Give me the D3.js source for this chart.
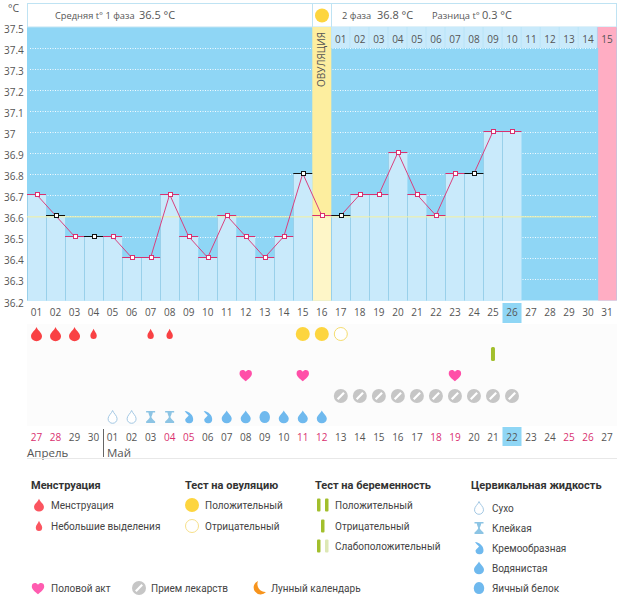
<!DOCTYPE html>
<html lang="ru">
<head>
<meta charset="UTF-8">
<title>График базальной температуры</title>
<script src="https://d3js.org/d3.v7.min.js"></script>
<style>
    html, body { margin: 0; padding: 0; background: #fff; overflow: hidden; }
    svg { display: block; }
    text { font-family: "Open Sans", "Noto Sans", sans-serif; font-size: 10px; fill: #555; }
    .legend text { font-family: Roboto, "Noto Sans", sans-serif; font-size: 10px; fill: #444; }
    .legend text.title { font-size: 11px; font-weight: bold; fill: #333; }
    .axis path, .axis line { display: none; }
</style>
</head>
<body>
<svg id="chart" width="626" height="595"></svg>
<script>
// cycle days and temperatures
const days = d3.range(1, 32);
const temps = [36.7, 36.6, 36.5, 36.5, 36.5, 36.4, 36.4, 36.7, 36.5, 36.4, 36.6, 36.5, 36.4,
    36.5, 36.8, 36.6, 36.6, 36.7, 36.7, 36.9, 36.7, 36.6, 36.8, 36.8, 37, 37];
const blackDays = [2, 4, 15, 17, 24];
const tempTicks = [37.5, 37.4, 37.3, 37.2, 37.1, 37, 36.9, 36.8, 36.7, 36.6, 36.5, 36.4, 36.3, 36.2];
const coverLine = 36.6;
const ovulationDay = 16;
const today = 26;

// second phase numbering in the top strip
const phaseDays = d3.range(17, 32);
const calendar = ["27", "28", "29", "30", "01", "02", "03", "04", "05", "06", "07", "08", "09", "10", "11", "12",
    "13", "14", "15", "16", "17", "18", "19", "20", "21", "22", "23", "24", "25", "26", "27"];
const weekendDays = [1, 2, 8, 9, 15, 16, 22, 23, 29, 30];

// symptom rows
const menstruation = [1, 2, 3];
const spotting = [4, 7, 8];
const ovuPositive = [15, 16];
const ovuNegative = [17];
const pregnancyNegative = [25];
const sexDays = [12, 15, 23];
const pillDays = d3.range(17, 27);
const cervical = [[5, "dry"], [6, "dry"], [7, "sticky"], [8, "sticky"], [9, "creamy"], [10, "creamy"],
    [11, "watery"], [12, "watery"], [13, "egg"], [14, "watery"], [15, "watery"], [16, "watery"]];

const svg = d3.select("#chart");
const pad = n => String(n).padStart(2, "0");

const x = d3.scaleBand().domain(days).range([27, 616.6]);
const y = d3.scaleLinear().domain([36.2, 37.5]).range([300.5, 27]);
const cx = d => x(d) + x.bandwidth() / 2;
const w = x.bandwidth();
const markY = d => Math.round(y(d)) - 0.5;

// icon paths, centred on 0,0
const dropPath = "M0,-7C1.2,-3.6 5.5,-1.2 5.5,2.2A5.5,5 0 0 1 -5.5,2.2C-5.5,-1.2 -1.2,-3.6 0,-7Z";
const smallDropPath = "M0,-5.2C0.8,-2.6 3.2,-0.8 3.2,1.6A3.2,3.5 0 0 1 -3.2,1.6C-3.2,-0.8 -0.8,-2.6 0,-5.2Z";
const heartPath = "M0,6.2C-2.5,3.8 -6.2,1.8 -6.2,-1.6C-6.2,-5.2 -1.8,-6 0,-3.2C1.8,-6 6.2,-5.2 6.2,-1.6C6.2,1.8 2.5,3.8 0,6.2Z";
const cervicalIcons = {
    dry: { d: "M0,-6.5C1,-3.5 4.5,-1.5 4.5,1.8A4.5,4.5 0 0 1 -4.5,1.8C-4.5,-1.5 -1,-3.5 0,-6.5Z", fill: "#fff", stroke: "#a3c8e4" },
    sticky: { d: "M-4.5,-6H4.5V-4.6H2.2C1.8,-2 0.8,-1 0.8,0C0.8,1 2,2.2 4.5,4.6V6H-4.5V4.6C-2,2.2 -0.8,1 -0.8,0C-0.8,-1 -1.8,-2 -2.2,-4.6H-4.5Z", fill: "#8cc4e4" },
    creamy: { d: "M-4,-6C1,-5.5 4.5,-1.5 4.5,2A4,4 0 0 1 -3.5,2.5C-2.5,0.5 -0.5,-0.5 0,-1.5C-1,-3 -3,-4 -4,-6Z", fill: "#6fb9ee" },
    watery: { d: "M0,-6.5C1.2,-3.5 5,-1.5 5,1.8A5,4.5 0 0 1 -5,1.8C-5,-1.5 -1.2,-3.5 0,-6.5Z", fill: "#6fb9ee" },
    egg: { d: "M0,-6C3.2,-6 5.2,-3 5.2,0.6A5.2,5.4 0 0 1 -5.2,0.6C-5.2,-3 -3.2,-6 0,-6Z", fill: "#6fb9ee" }
};
const pillIcon = (g, px, py) => {
    g.append("circle").attr("cx", px).attr("cy", py).attr("r", 7).attr("fill", "#c6c6c6");
    g.append("line").attr("x1", px - 3.2).attr("y1", py + 3.2).attr("x2", px + 3.2).attr("y2", py - 3.2)
        .attr("stroke", "#fff").attr("stroke-width", 2.2);
};
const icon = (g, d, px, py, fill, stroke) => g.append("path").attr("d", d)
    .attr("transform", `translate(${px},${py})`).attr("fill", fill).attr("stroke", stroke || "none");

// plot background
svg.append("rect").attr("x", 27).attr("y", 27).attr("width", 590).attr("height", 273.5).attr("fill", "#8fd6f5");

// header boxes
const header = svg.append("g").attr("fill", "#fff").attr("stroke", "#bfe3f3");
header.append("rect").attr("x", 27.5).attr("y", 3.5).attr("width", 285).attr("height", 23.5);
header.append("rect").attr("x", 312.5).attr("y", 3.5).attr("width", 19).attr("height", 23.5);
header.append("rect").attr("x", 331.5).attr("y", 3.5).attr("width", 285).attr("height", 23.5);
svg.append("circle").attr("cx", 322).attr("cy", 15.5).attr("r", 7).attr("fill", "#fdd53f");

const headerLine = (px, label, vx, value) => {
    svg.append("text").attr("x", px).attr("y", 19).style("font-size", "9.3px").text(label);
    svg.append("text").attr("x", vx).attr("y", 19).style("font-size", "11px").text(value);
};
headerLine(55, "Средняя t° 1 фаза", 139, "36.5 °C");
headerLine(342, "2 фаза", 377, "36.8 °C");
headerLine(432, "Разница t°", 482, "0.3 °C");
svg.append("text").attr("x", 8).attr("y", 12).style("font-size", "10.5px").text("°C");

// grid
svg.append("g").selectAll("line").data(tempTicks.filter(t => t < 37.5 && t > 36.2)).join("line")
    .attr("x1", 30).attr("x2", 597)
    .attr("y1", d => Math.round(y(d)) + 0.5).attr("y2", d => Math.round(y(d)) + 0.5)
    .attr("stroke", "#f2fbff").attr("stroke-dasharray", "1 1.5");

// ovulation and last day columns
svg.append("rect").attr("x", x(ovulationDay)).attr("y", 27).attr("width", w).attr("height", 273.5).attr("fill", "#fdee9f");
svg.append("rect").attr("x", x(31) + 0.6).attr("y", 27).attr("width", w - 0.6).attr("height", 273.5).attr("fill", "#ffadc3");

// temperature bars
svg.append("g").selectAll("rect").data(temps).join("rect")
    .attr("x", (d, i) => x(i + 1)).attr("width", w)
    .attr("y", d => markY(d)).attr("height", d => y(36.2) - markY(d))
    .attr("fill", (d, i) => i + 1 === ovulationDay ? "#fef6c8" : "#c9eafb");
svg.append("g").selectAll("line").data(temps).join("line")
    .attr("x1", (d, i) => Math.round(x(i + 1)) + 0.5).attr("x2", (d, i) => Math.round(x(i + 1)) + 0.5)
    .attr("y1", d => markY(d)).attr("y2", y(36.2))
    .attr("stroke", "#99d0ea");

// cover line
svg.append("line").attr("x1", 27).attr("x2", 591).attr("y1", y(coverLine) + 0.5).attr("y2", y(coverLine) + 0.5)
    .attr("stroke", "#f4f0a0");

// top strip with phase day numbers
const strip = svg.append("g");
strip.append("rect").attr("x", x(17)).attr("y", 27).attr("width", 266).attr("height", 21).attr("fill", "#b4e2f7");
strip.selectAll("rect.cell").data(phaseDays).join("rect").attr("class", "cell")
    .attr("x", d => x(d)).attr("y", 27).attr("width", w - 0.8).attr("height", 21)
    .attr("fill", d => d === 31 ? "#ffadc3" : "#c9eafb");
strip.selectAll("text").data(phaseDays).join("text")
    .attr("x", d => cx(d)).attr("y", 43).attr("text-anchor", "middle")
    .text(d => pad(d - 16));
svg.append("text").attr("transform", `translate(${cx(ovulationDay) + 3.5},87) rotate(-90)`)
    .style("font-size", "10px").text("ОВУЛЯЦИЯ");

// temperature line and markers
const line = d3.line().x((d, i) => cx(i + 1)).y(d => markY(d));
const isBlack = i => blackDays.includes(i + 1);
svg.append("path").datum(temps).attr("d", line).attr("fill", "none").attr("stroke", "#d9417f");
svg.append("g").selectAll("line").data(temps).join("line")
    .attr("x1", (d, i) => x(i + 1)).attr("x2", (d, i) => x(i + 1) + w)
    .attr("y1", d => markY(d)).attr("y2", d => markY(d))
    .attr("stroke", (d, i) => isBlack(i) ? "#111" : "#d9306f");
svg.append("g").selectAll("rect").data(temps).join("rect")
    .attr("x", (d, i) => Math.round(cx(i + 1)) - 1.5)
    .attr("y", d => markY(d) - 2)
    .attr("width", 4).attr("height", 4)
    .attr("fill", "#fff").attr("stroke", (d, i) => isBlack(i) ? "#111" : "#d9306f");

// axes
svg.append("g").attr("class", "axis").attr("transform", "translate(23,0)")
    .call(d3.axisLeft(y).tickValues(tempTicks).tickFormat(d3.format("")).tickSize(0))
    .call(g => g.selectAll("text").attr("x", -19).attr("dy", 5.5).attr("text-anchor", "start"));

svg.append("rect").attr("x", x(today)).attr("y", 303).attr("width", w).attr("height", 20).attr("fill", "#8fd6f5");
svg.append("g").attr("class", "axis").attr("transform", "translate(0,304)")
    .call(d3.axisBottom(x).tickFormat(pad).tickSize(0))
    .call(g => g.selectAll("text").attr("y", 2).attr("dy", 10));

// symptom rows
svg.append("rect").attr("x", 27).attr("y", 324).attr("width", 590).attr("height", 102).attr("fill", "#fcfcfc");
const rows = svg.append("g");
menstruation.forEach(d => icon(rows, dropPath, cx(d), 334, "#f94144"));
spotting.forEach(d => icon(rows, smallDropPath, cx(d), 334, "#f94144"));
ovuPositive.forEach(d => rows.append("circle").attr("cx", cx(d)).attr("cy", 334).attr("r", 7).attr("fill", "#fdd53f"));
ovuNegative.forEach(d => rows.append("circle").attr("cx", cx(d)).attr("cy", 334).attr("r", 6.5).attr("fill", "#fff").attr("stroke", "#f5dc6e"));
pregnancyNegative.forEach(d => rows.append("rect").attr("x", cx(d) - 2).attr("y", 347).attr("width", 4).attr("height", 14).attr("rx", 1.5).attr("fill", "#a2bf2c"));
sexDays.forEach(d => icon(rows, heartPath, cx(d), 375, "#ff4fa8"));
pillDays.forEach(d => pillIcon(rows, cx(d), 396));
cervical.forEach(([d, type]) => icon(rows, cervicalIcons[type].d, cx(d), 417, cervicalIcons[type].fill, cervicalIcons[type].stroke));

// calendar dates
svg.append("rect").attr("x", x(today)).attr("y", 427).attr("width", w).attr("height", 19).attr("fill", "#8fd6f5");
svg.append("g").selectAll("text").data(calendar).join("text")
    .attr("x", (d, i) => cx(i + 1)).attr("y", 441).attr("text-anchor", "middle")
    .style("fill", (d, i) => weekendDays.includes(i + 1) ? "#d9306f" : "#555")
    .text(d => d);
svg.append("line").attr("x1", 103.5).attr("x2", 103.5).attr("y1", 429).attr("y2", 457).attr("stroke", "#666");
svg.append("text").attr("x", 27).attr("y", 457).style("font-size", "11.5px").text("Апрель");
svg.append("text").attr("x", 107).attr("y", 457).style("font-size", "11.5px").text("Май");
svg.append("line").attr("x1", 27).attr("x2", 617).attr("y1", 458.5).attr("y2", 458.5).attr("stroke", "#e8e8e8");

// legend
const legend = svg.append("g").attr("class", "legend");
const label = (px, py, s, cls) => legend.append("text").attr("x", px).attr("y", py).attr("class", cls || null).text(s);
const bar = (px, py, fill) => legend.append("rect").attr("x", px).attr("y", py - 6.5).attr("width", 3.5).attr("height", 13).attr("rx", 1).attr("fill", fill);

label(31, 489, "Менструация", "title");
icon(legend, dropPath, 39, 505, "#fb5560").attr("transform", "translate(39,505) scale(0.9)");
label(51, 509, "Менструация");
icon(legend, smallDropPath, 39, 526, "#fb5560");
label(51, 530, "Небольшие выделения");

label(185, 489, "Тест на овуляцию", "title");
legend.append("circle").attr("cx", 192).attr("cy", 505).attr("r", 7).attr("fill", "#fdd53f");
label(205, 509, "Положительный");
legend.append("circle").attr("cx", 192).attr("cy", 526).attr("r", 6.5).attr("fill", "#fff").attr("stroke", "#f7e08a");
label(205, 530, "Отрицательный");

label(315, 489, "Тест на беременность", "title");
bar(317, 505, "#a2bf2c"); bar(325, 505, "#a2bf2c");
label(335, 509, "Положительный");
bar(321, 526, "#a2bf2c");
label(335, 530, "Отрицательный");
bar(317, 546, "#a2bf2c"); bar(325, 546, "#dde8b5");
label(335, 550, "Слабоположительный");

label(471, 489, "Цервикальная жидкость", "title");
const legendCervical = [["dry", "Сухо", 508], ["sticky", "Клейкая", 528], ["creamy", "Кремообразная", 548], ["watery", "Водянистая", 568], ["egg", "Яичный белок", 588]];
legendCervical.forEach(([type, s, py]) => {
    icon(legend, cervicalIcons[type].d, 479, py, cervicalIcons[type].fill, cervicalIcons[type].stroke);
    label(492, py + 4, s);
});

icon(legend, heartPath, 38, 588, "#ff5cb0");
label(51, 592, "Половой акт");
pillIcon(legend, 139, 588);
label(151, 592, "Прием лекарств");
icon(legend, "M-1,-7A7,7 0 1 0 7,4A8,8 0 0 1 -1,-7Z", 259, 588, "#f7941d");
label(271, 592, "Лунный календарь");
</script>
</body>
</html>
